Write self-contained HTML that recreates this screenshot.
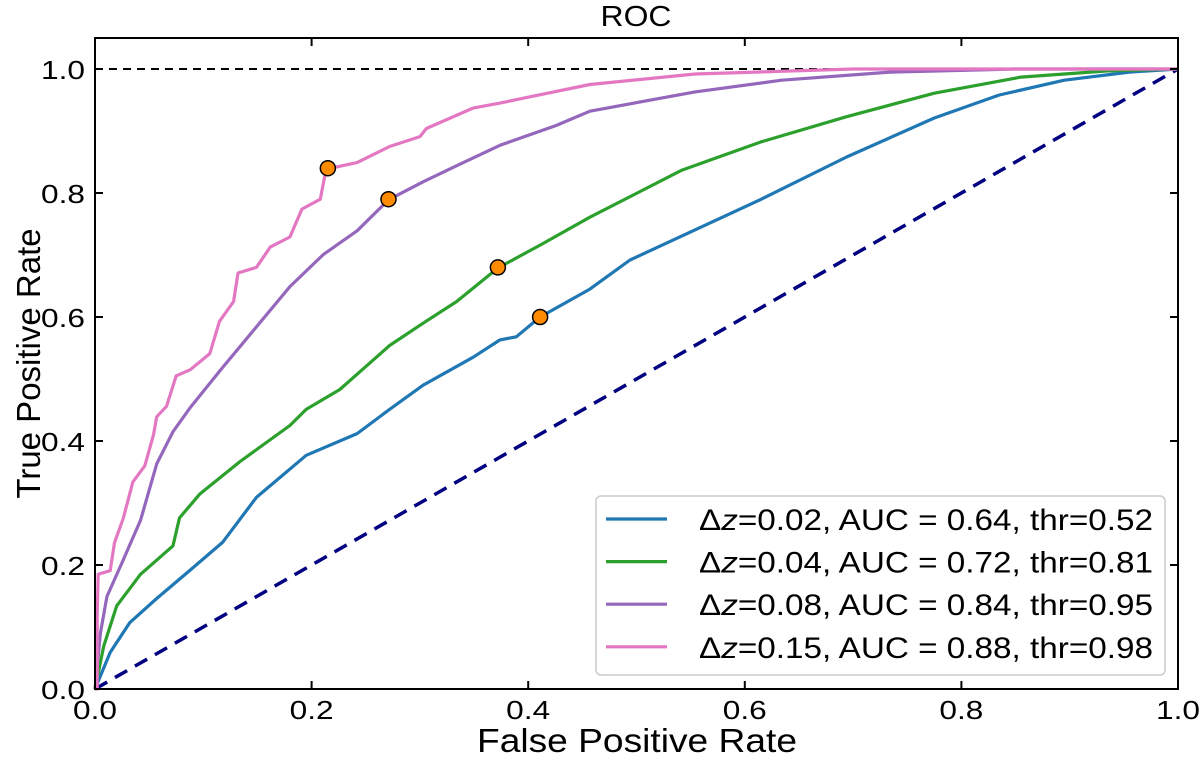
<!DOCTYPE html>
<html><head><meta charset="utf-8"><style>
body{margin:0;background:#fff}
svg{display:block;font-family:"Liberation Sans","DejaVu Sans",sans-serif}
</style></head><body>
<svg id="chart" width="1200" height="760" viewBox="0 0 1200 760" xmlns="http://www.w3.org/2000/svg">
<g id="marks"></g>
</svg>
<script>
const xTicks=[0,0.2,0.4,0.6,0.8,1.0];
const yTicks=[0,0.2,0.4,0.6,0.8,1.0];
const tickLabels=["0.0","0.2","0.4","0.6","0.8","1.0"];
const seriesNames=["dz002","dz004","dz008","dz015"];
const seriesColors=["#1f77b4","#2ca02c","#9467bd","#e377c2"];
const legendLabels=["=0.02, AUC = 0.64, thr=0.52","=0.04, AUC = 0.72, thr=0.81","=0.08, AUC = 0.84, thr=0.95","=0.15, AUC = 0.88, thr=0.98"];
const fprBlue=[0,0.014,0.032,0.057,0.088,0.118,0.149,0.195,0.242,0.272,0.303,0.349,0.374,0.389,0.411,0.457,0.494,0.614,0.694,0.775,0.835,0.895,0.955,1];
const tprBlue=[0,0.059,0.107,0.146,0.192,0.237,0.309,0.377,0.412,0.451,0.49,0.535,0.563,0.568,0.60,0.645,0.692,0.789,0.858,0.921,0.958,0.982,0.995,1];
const fprGreen=[0,0.008,0.02,0.042,0.072,0.078,0.097,0.134,0.18,0.195,0.226,0.272,0.303,0.334,0.372,0.411,0.457,0.542,0.614,0.694,0.775,0.855,0.935,1];
const tprGreen=[0,0.069,0.134,0.185,0.231,0.276,0.315,0.367,0.425,0.451,0.483,0.554,0.59,0.625,0.679,0.716,0.761,0.837,0.882,0.923,0.961,0.987,0.997,1];
const fprPurple=[0,0.005,0.011,0.026,0.042,0.057,0.072,0.088,0.118,0.149,0.18,0.211,0.242,0.271,0.303,0.334,0.374,0.426,0.457,0.554,0.634,0.734,0.85,1];
const tprPurple=[0,0.09,0.149,0.208,0.272,0.363,0.415,0.454,0.519,0.584,0.649,0.701,0.739,0.789,0.818,0.844,0.877,0.909,0.932,0.963,0.982,0.995,1,1];
const fprPink=[0,0.002,0.002,0.003,0.014,0.018,0.026,0.035,0.046,0.054,0.057,0.066,0.075,0.088,0.106,0.115,0.128,0.132,0.149,0.162,0.18,0.191,0.208,0.212,0.215,0.242,0.272,0.3,0.306,0.349,0.374,0.396,0.457,0.554,0.7,1];
const tprPink=[0,0,0.12,0.185,0.191,0.236,0.275,0.334,0.36,0.41,0.439,0.456,0.505,0.515,0.541,0.593,0.625,0.671,0.68,0.713,0.729,0.774,0.79,0.826,0.839,0.849,0.875,0.891,0.904,0.937,0.945,0.953,0.975,0.992,1,1];
const fprs=[fprBlue,fprGreen,fprPurple,fprPink];
const tprs=[tprBlue,tprGreen,tprPurple,tprPink];
const thrFpr=[0.411,0.372,0.271,0.215];
const thrTpr=[0.60,0.68,0.79,0.84];

const X0=95,X1=1178,Y0=689,YTOP=38;
const xs=v=>X0+v*(X1-X0);
const ys=v=>Y0-v*620;
const NS="http://www.w3.org/2000/svg";
const g=document.getElementById('marks');
function mk(tag,attrs,parent){const e=document.createElementNS(NS,tag);for(const k in attrs)e.setAttribute(k,attrs[k]);(parent||g).appendChild(e);return e;}

let e=mk('line',{x1:X0,x2:X1,y1:ys(1),y2:ys(1),stroke:'#000','stroke-width':2,'stroke-dasharray':'8,6'});


e=mk('line',{x1:xs(0),y1:ys(0),x2:xs(1),y2:ys(1),stroke:'#000080','stroke-width':3.5,'stroke-dasharray':'14,9'});



for(let s=0;s<4;s++){
  const pts=fprs[s].map((v,i)=>xs(v).toFixed(1)+','+ys(tprs[s][i]).toFixed(1)).join(' ');
  const p=mk('polyline',{points:pts,fill:'none',stroke:seriesColors[s],'stroke-width':3.2,'stroke-linejoin':'round'});
  
  
}
for(let s=0;s<4;s++){
  const c=mk('circle',{cx:xs(thrFpr[s]),cy:ys(thrTpr[s]),r:7.5,fill:'#ff8c00',stroke:'#000','stroke-width':1.5});
  
  
}
e=mk('rect',{x:X0,y:YTOP,width:X1-X0,height:Y0-YTOP,fill:'none',stroke:'#000','stroke-width':2});


xTicks.forEach((v,i)=>{
  mk('line',{x1:xs(v),x2:xs(v),y1:Y0,y2:Y0-8,stroke:'#000','stroke-width':2});
  mk('line',{x1:xs(v),x2:xs(v),y1:YTOP,y2:YTOP+8,stroke:'#000','stroke-width':2});
  const t=mk('text',{x:xs(v),y:Y0+30,'text-anchor':'middle','font-size':26,fill:'#000',textLength:44,lengthAdjust:'spacingAndGlyphs'});
  t.textContent=tickLabels[i];
  
  
});
yTicks.forEach((v,i)=>{
  mk('line',{x1:X0,x2:X0+8,y1:ys(v),y2:ys(v),stroke:'#000','stroke-width':2});
  mk('line',{x1:X1,x2:X1-8,y1:ys(v),y2:ys(v),stroke:'#000','stroke-width':2});
  const t=mk('text',{x:X0-10,y:ys(v)+10,'text-anchor':'end','font-size':26,fill:'#000',textLength:44,lengthAdjust:'spacingAndGlyphs'});
  t.textContent=tickLabels[i];
  
  
});
let t=mk('text',{x:637,y:752,'text-anchor':'middle','font-size':33,fill:'#000',textLength:320,lengthAdjust:'spacingAndGlyphs'});
t.textContent='False Positive Rate';


t=mk('text',{x:0,y:0,'text-anchor':'middle','font-size':33,fill:'#000',transform:'translate(40,'+((Y0+YTOP)/2)+') rotate(-90)'});
t.textContent='True Positive Rate';


t=mk('text',{x:636,y:26,'text-anchor':'middle','font-size':29,fill:'#000',textLength:71,lengthAdjust:'spacingAndGlyphs'});
t.textContent='ROC';


const lg=mk('g',{});


mk('rect',{x:596,y:496,width:569,height:179,rx:5,fill:'#fff',stroke:'#ccc','stroke-width':1.5},lg);
for(let s=0;s<4;s++){
  const yy=519+s*42.6;
  const en=mk('g',{},lg);
  
  
  mk('line',{x1:606,x2:667,y1:yy,y2:yy,stroke:seriesColors[s],'stroke-width':3.2},en);
  const tx=mk('text',{x:699,y:yy+11,'font-size':30,fill:'#000',textLength:454,lengthAdjust:'spacingAndGlyphs'},en);
  const a=mk('tspan',{},tx);a.textContent='Δ';
  const b=mk('tspan',{'font-style':'italic'},tx);b.textContent='z';
  const c=mk('tspan',{},tx);c.textContent=legendLabels[s];
}
</script>
</body></html>
